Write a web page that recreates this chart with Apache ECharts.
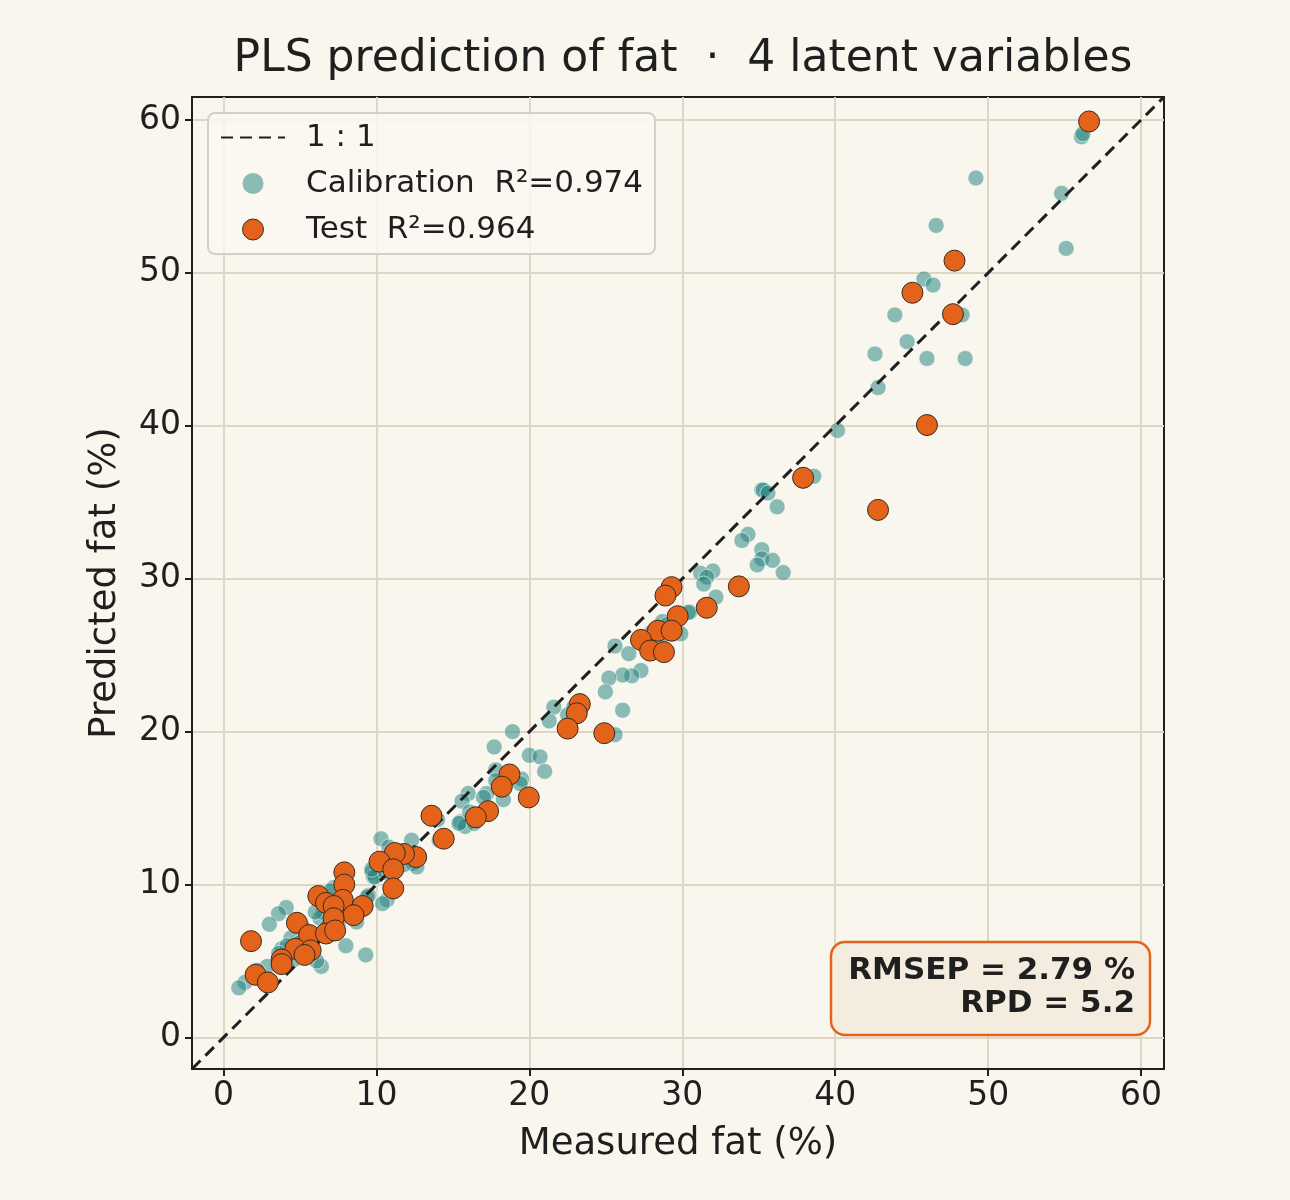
<!DOCTYPE html>
<html>
<head>
<meta charset="utf-8">
<script src="https://cdn.jsdelivr.net/npm/echarts@6/dist/echarts.min.js"></script>
<style>
  html, body { margin: 0; padding: 0; background: #f9f6ee; }
  #chart { width: 1290px; height: 1200px; }
</style>
</head>
<body>
<div id="chart"></div>
<script>
// 数据 (measured, predicted)
var calibration = [
  [56.1,58.9],[56.2,59.1],[49.2,56.2],[54.8,55.2],[46.6,53.1],[55.1,51.6],[45.8,49.6],[46.4,49.2],
  [43.9,47.25],[48.3,47.25],[44.7,45.5],[42.6,44.7],[46.0,44.4],[48.5,44.4],[42.8,42.5],[40.15,39.7],
  [38.6,36.7],[35.2,35.8],[35.3,35.8],[35.6,35.6],[36.2,34.7],[34.3,32.9],[33.9,32.5],[35.2,31.9],
  [35.2,31.3],[35.9,31.2],[34.9,30.9],[36.6,30.4],[32.0,30.5],[31.2,30.35],[31.6,30.1],[31.4,29.65],
  [32.2,28.8],[30.5,27.8],[30.4,27.8],[29.9,26.4],[28.7,27.2],[28.6,26.2],[29.0,27.0],[25.6,25.6],
  [26.5,25.1],[27.3,24.0],[26.7,23.65],[26.1,23.7],[25.2,23.5],[24.97,22.6],[26.1,21.4],[22.5,21.1],
  [21.6,21.6],[21.3,20.7],[18.9,20.0],[25.6,19.8],[17.7,19.0],[20.0,18.45],[20.7,18.35],[21.0,17.4],
  [17.8,17.5],[19.5,16.9],[17.8,16.8],[19.4,16.6],[18.3,15.55],[17.2,15.95],[16.0,15.95],[15.6,15.45],
  [17.0,15.7],[15.5,14.1],[15.8,13.8],[16.4,14.0],[16.1,14.75],[14.0,14.25],[15.4,14.0],[10.3,13.0],
  [12.3,12.9],[14.1,12.9],[12.4,11.4],[12.65,11.15],[9.7,10.8],[9.8,10.5],[10.7,9.0],[9.5,9.3],
  [10.8,12.45],[11.5,11.9],[10.4,8.75],[9.4,9.2],[9.9,10.5],[9.7,11.0],[4.1,8.5],[3.6,8.1],
  [3.0,7.4],[7.2,9.8],[6.5,8.2],[6.3,7.8],[8.0,6.0],[9.3,5.4],[8.7,7.55],[4.4,6.5],
  [3.8,5.8],[2.85,4.65],[1.4,3.6],[1.0,3.25],[6.4,4.65],[6.1,5.0],[6.0,8.2],[4.15,6.0],
  [3.6,5.5],[2.2,4.4],[5.0,6.2],[7.5,7.5],[8.2,8.5],[10.6,10.8],[11.8,11.3],[12.0,12.1],
  [13.5,14.4],[18.2,16.6],[22.9,21.6],[28.0,26.5],[27.5,25.8],[7.0,9.6],[5.2,7.2],[4.6,5.1],[6.8,7.3]
];
var test = [
  [56.6,59.9],[47.8,50.8],[45.05,48.7],[47.7,47.3],[46.0,40.05],[42.8,34.5],[37.9,36.6],[33.7,29.5],
  [31.6,28.1],[29.7,27.55],[29.3,29.45],[28.9,28.9],[28.4,26.6],[29.3,26.6],[27.3,26.0],[27.9,25.3],
  [28.8,25.2],[23.3,21.8],[23.1,21.2],[22.5,20.2],[24.9,19.9],[19.96,15.7],[18.7,17.2],[18.2,16.4],
  [17.3,14.8],[16.5,14.4],[13.6,14.5],[14.4,13.0],[12.6,11.8],[11.8,12.0],[11.2,12.06],[10.2,11.5],
  [11.1,11.0],[11.1,9.75],[7.9,10.8],[7.9,10.0],[6.2,9.25],[6.7,8.8],[7.8,9.0],[9.1,8.6],
  [8.5,8.0],[7.2,8.6],[7.2,7.8],[4.8,7.5],[5.6,6.7],[6.7,6.8],[7.3,7.0],[1.8,6.3],
  [4.7,5.8],[5.7,5.7],[5.3,5.4],[3.8,5.1],[3.8,4.8],[2.1,4.1],[2.9,3.6]
];
var axisMin = -2.06, axisMax = 61.5;
var tickValues = [0, 10, 20, 30, 40, 50, 60];
var identityLine = [[axisMin, axisMin], [axisMax, axisMax]];

var font = 'DejaVu Sans';
var ink = '#1f1f1f';
var teal = 'rgba(36,132,127,0.66)';
var orange = '#e4631a';

var myChart = echarts.init(document.getElementById('chart'));

function makeAxis(name, gap, rotate) {
  return {
    type: 'value',
    min: axisMin,
    max: axisMax,
    name: name,
    nameLocation: 'middle',
    nameGap: gap,
    nameRotate: rotate,
    nameTextStyle: { color: ink, fontSize: 37, fontFamily: font },
    axisLine: { show: true, onZero: false, lineStyle: { color: ink, width: 2 } },
    axisTick: { show: true, length: 7, customValues: tickValues, lineStyle: { color: ink, width: 2 } },
    axisLabel: { customValues: tickValues, color: ink, fontSize: 33, fontFamily: font, margin: 11 },
    splitLine: { show: true, lineStyle: { color: '#ddd6c3', width: 2 } }
  };
}

var xAxis = makeAxis('Measured fat (%)', 57, 0);
var yAxis = makeAxis('Predicted fat (%)', 68, 90);

var option = {
  backgroundColor: '#f9f6ee',
  animation: false,
  title: {
    text: 'PLS prediction of fat  ·  4 latent variables',
    left: 678,
    textAlign: 'center',
    top: 33,
    textStyle: { color: ink, fontSize: 44, fontWeight: 'normal', fontFamily: font }
  },
  grid: {
    left: 192, top: 97, width: 972, height: 972,
    show: true, borderColor: ink, borderWidth: 2, backgroundColor: 'transparent'
  },
  legend: {
    left: 208, top: 113,
    orient: 'vertical',
    itemWidth: 64, itemHeight: 21, itemGap: 15,
    padding: [9, 12, 9, 12],
    backgroundColor: 'rgba(250,248,241,0.85)',
    borderColor: '#d4d0c6', borderWidth: 2, borderRadius: 7,
    textStyle: { color: ink, fontSize: 31, fontFamily: font, padding: [0, 0, 0, 16] },
    data: [
      { name: '1 : 1' },
      { name: 'Calibration  R²=0.974', icon: 'circle', itemStyle: { color: teal, borderWidth: 0 } },
      { name: 'Test  R²=0.964', icon: 'circle', itemStyle: { color: orange, borderColor: '#3a2a20', borderWidth: 1 } }
    ]
  },
  xAxis: xAxis,
  yAxis: yAxis,
  series: [
    {
      name: 'Calibration  R²=0.974',
      type: 'scatter',
      data: calibration,
      symbolSize: 16,
      z: 2,
      itemStyle: { color: teal, borderColor: 'rgba(255,255,255,0.7)', borderWidth: 1 }
    },
    {
      name: '1 : 1',
      type: 'line',
      data: identityLine,
      symbol: 'none',
      z: 3,
      itemStyle: { color: 'rgba(0,0,0,0)' },
      lineStyle: { color: ink, width: 3, type: [12, 7] }
    },
    {
      name: 'Test  R²=0.964',
      type: 'scatter',
      data: test,
      symbolSize: 21,
      z: 4,
      itemStyle: { color: orange, opacity: 1, borderColor: '#3a2a20', borderWidth: 1 }
    }
  ],
  graphic: [
    {
      type: 'rect',
      shape: { x: 831, y: 942, width: 319, height: 93, r: 14 },
      style: { fill: '#f3ecdf', stroke: orange, lineWidth: 2.5 },
      z: 10
    },
    {
      type: 'text',
      x: 1135, y: 971,
      style: {
        text: 'RMSEP = 2.79 %', align: 'right', verticalAlign: 'middle',
        fill: ink, font: 'bold 31px "DejaVu Sans"'
      },
      z: 11
    },
    {
      type: 'text',
      x: 1135, y: 1004,
      style: {
        text: 'RPD = 5.2', align: 'right', verticalAlign: 'middle',
        fill: ink, font: 'bold 31px "DejaVu Sans"'
      },
      z: 11
    }
  ]
};

myChart.setOption(option);
</script>
</body>
</html>
